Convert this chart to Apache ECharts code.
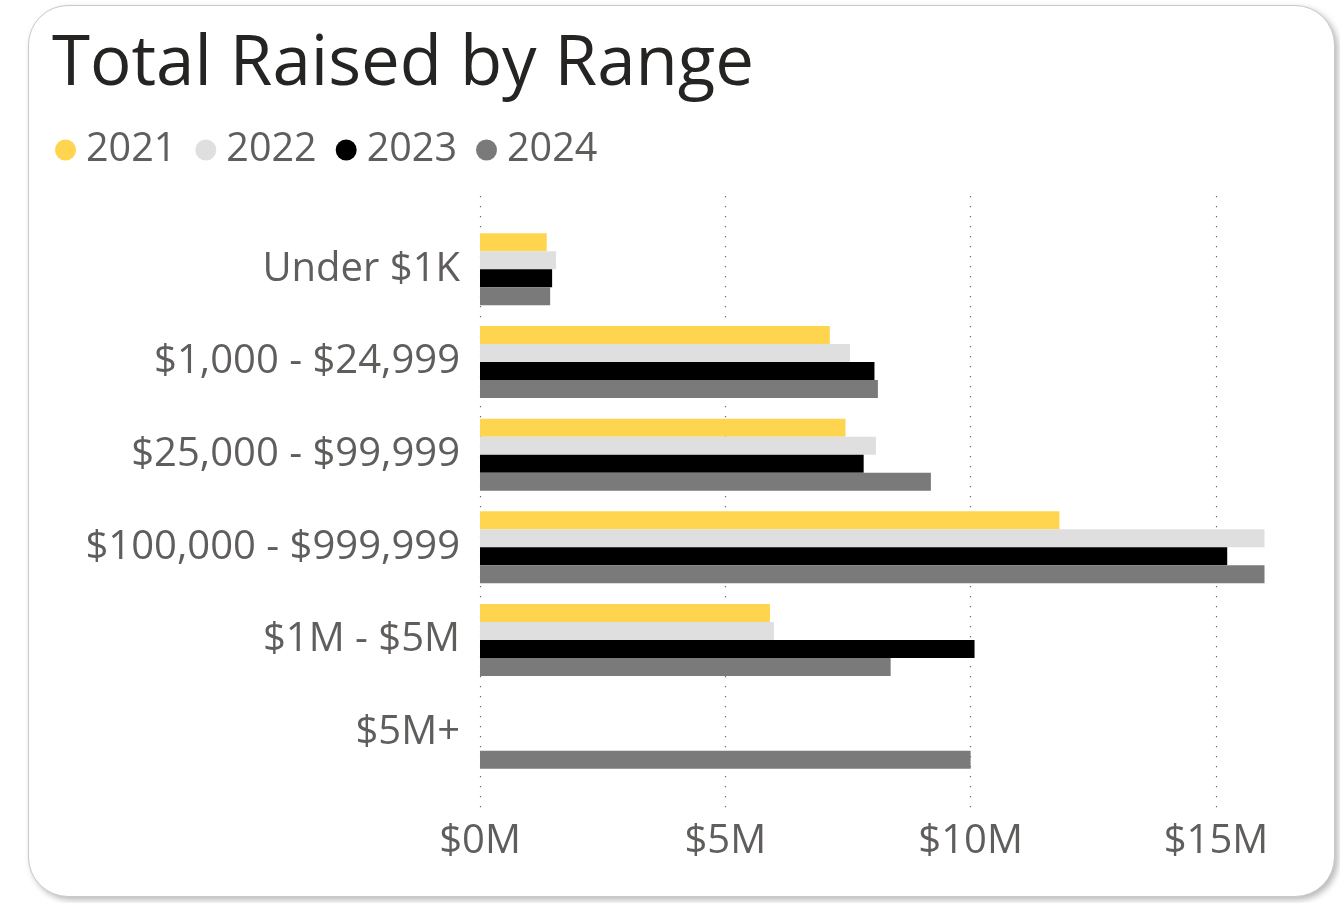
<!DOCTYPE html>
<html>
<head>
<meta charset="utf-8">
<script src="https://cdn.jsdelivr.net/npm/echarts@6/dist/echarts.min.js"></script>
<style>
  html, body { margin: 0; padding: 0; background: #fff; }
  .card {
    position: absolute; left: 28px; top: 5px; width: 1307px; height: 892px;
    border: 1.5px solid #c9c9c9; border-radius: 40px; background: #fff;
    box-shadow: 3px 3px 6px rgba(0,0,0,0.28); box-sizing: border-box;
  }
  #chart { position: absolute; left: 0; top: 0; width: 1340px; height: 903px; }
</style>
</head>
<body>
<div class="card"></div>
<div id="chart"></div>
<script>
// values in $M
var ranges = ['Under $1K', '$1,000 - $24,999', '$25,000 - $99,999', '$100,000 - $999,999', '$1M - $5M', '$5M+'];
var years = ['2021', '2022', '2023', '2024'];
var y2021 = [1.36, 7.13, 7.45, 11.81, 5.91, null];
var y2022 = [1.55, 7.54, 8.07, 15.99, 5.99, null];
var y2023 = [1.47, 8.04, 7.82, 15.23, 10.08, null];
var y2024 = [1.43, 8.11, 9.19, 15.99, 8.37, 10.0];
var xTicks = [0, 5, 10, 15];
var colors = ['#FFD44F', '#DFDFDF', '#000000', '#7A7A7A'];

var font = '"Open Sans", "Noto Sans", sans-serif';
var myChart = echarts.init(document.getElementById('chart'));
var seriesData = [y2021, y2022, y2023, y2024];

var series = [];
for (var i = 0; i < years.length; i++) {
    series.push({
        name: years[i],
        type: 'bar',
        xAxisIndex: 1,
        yAxisIndex: 1,
        barWidth: 18,
        barGap: 0,
        itemStyle: { color: colors[i] },
        animation: false,
        data: seriesData[i]
    });
}

var option = {
    backgroundColor: 'transparent',
    color: colors,
    title: {
        text: 'Total Raised by Range',
        left: 47,
        top: 20,
        textStyle: { fontFamily: font, fontSize: 69, fontWeight: 'normal', color: '#252423', lineHeight: 80 }
    },
    legend: {
        data: years,
        left: 50,
        top: 123,
        icon: 'circle',
        itemWidth: 21,
        itemHeight: 21,
        itemGap: 19,
        textStyle: { fontFamily: font, fontSize: 39.5, color: '#605E5C', lineHeight: 44, padding: [0, 0, 0, 5] }
    },
    grid: [
        // grid for the dotted gridlines and tick labels
        { left: 480, right: 75, top: 196, bottom: 95 },
        // grid for the bars
        { left: 480, right: 75, top: 223, bottom: 124 }
    ],
    xAxis: [
        {
            gridIndex: 0,
            type: 'value',
            min: 0,
            max: 16,
            interval: 5,
            axisLine: { show: false },
            axisTick: { show: false },
            splitLine: {
                show: true,
                showMaxLine: false,
                lineStyle: { color: '#666666', width: 1.2, type: [1.2, 8.8] }
            },
            axisLabel: {
                showMaxLabel: false,
                margin: 14,
                fontFamily: font,
                fontSize: 40,
                color: '#605E5C',
                formatter: function (v) {
                    return xTicks.indexOf(v) >= 0 ? '$' + v + 'M' : '';
                }
            }
        },
        {
            gridIndex: 1,
            type: 'value',
            min: 0,
            max: 16,
            show: false,
            splitLine: { show: false }
        }
    ],
    yAxis: [
        {
            gridIndex: 0,
            type: 'value',
            show: false,
            splitLine: { show: false }
        },
        {
            gridIndex: 1,
            type: 'category',
            inverse: true,
            data: ranges,
            axisLine: { show: false },
            axisTick: { show: false },
            splitLine: { show: false },
            axisLabel: {
                margin: 20,
                fontFamily: font,
                fontSize: 40,
                color: '#605E5C'
            }
        }
    ],
    series: series
};

myChart.setOption(option);
</script>
</body>
</html>
